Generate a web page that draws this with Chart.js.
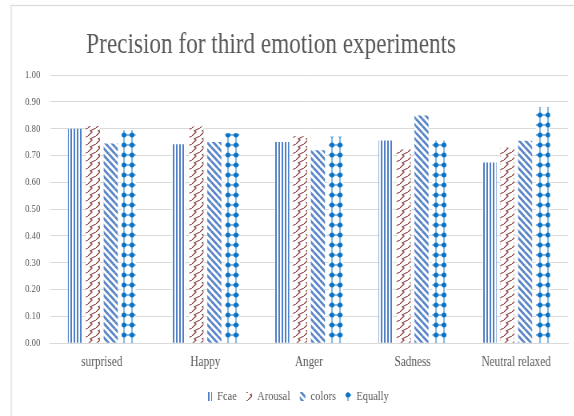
<!DOCTYPE html>
<html>
<head>
<meta charset="utf-8">
<script src="https://cdn.jsdelivr.net/npm/chart.js@4.4.1/dist/chart.umd.min.js"></script>
<style>
  html, body { margin: 0; padding: 0; background: #fff; overflow: hidden; }
  /* chart is laid out wide and squeezed horizontally, like the narrow serif look of the sheet */
  #wrap { position: absolute; left: 0; top: 0; width: 718px; height: 416px;
          transform: scaleX(0.8); transform-origin: 0 0; }
</style>
</head>
<body>
<div id="wrap"><canvas id="myChart"></canvas></div>
<script>
// DATA
var emotions = ['surprised', 'Happy', 'Anger', 'Sadness', 'Neutral relaxed'];
var fcae     = [0.800, 0.742, 0.750, 0.756, 0.674];
var arousal  = [0.810, 0.808, 0.772, 0.723, 0.730];
var colors   = [0.745, 0.750, 0.719, 0.849, 0.755];
var equally  = [0.795, 0.783, 0.770, 0.756, 0.880];
var yMin = 0, yMax = 1, yStep = 0.1;

var FONT = '"Liberation Serif", "Times New Roman", serif';
var GREY = '#595959';

// PATTERNS
function makeTile(w, h, draw) {
    var c = document.createElement('canvas');
    c.width = w; c.height = h;
    var t = c.getContext('2d');
    t.fillStyle = '#fff';
    t.fillRect(0, 0, w, h);
    draw(t, w, h);
    return document.createElement('canvas').getContext('2d').createPattern(c, 'repeat');
}

var fcaeFill = makeTile(4, 4, function (t, w, h) {
    t.fillStyle = '#4f7fc4';
    t.fillRect(0, 0, 2, h);
});

var arousalFill = makeTile(10, 8, function (t, w, h) {
    t.strokeStyle = '#8a3b3b';
    t.lineWidth = 1.1;
    for (var k = -1; k <= 1; k++) {
        var ox = k * w;
        t.beginPath();
        t.moveTo(ox, h);
        t.lineTo(ox + w * 0.5, h * 0.5);
        t.lineTo(ox + w * 0.3, h * 0.35);
        t.lineTo(ox + w, 0);
        t.stroke();
    }
});

var colorsFill = makeTile(8, 7, function (t, w, h) {
    t.strokeStyle = '#5a86c8';
    t.lineWidth = 2.6;
    [[0, 0], [-w, 0], [0, -h], [w, 0], [0, h]].forEach(function (o) {
        t.beginPath();
        t.moveTo(o[0], o[1]);
        t.lineTo(o[0] + w, o[1] + h);
        t.stroke();
    });
});

var equallyFill = makeTile(10, 10, function (t, w, h) {
    t.fillStyle = '#0a73c6';
    t.fillRect(4.5, 0, 1, h);
    t.fillRect(0, 4.5, w, 1);
    t.beginPath();
    t.ellipse(5, 5, 3.0, 2.5, 0, 0, Math.PI * 2);
    t.fill();
});

// FRAME, TITLE, LEGEND OFFSET
var LEGEND_SHIFT = 9;
var framePlugin = {
    id: 'frame',
    afterLayout: function (chart) {
        // legend sits a little right of the canvas centre
        chart.legend.left += LEGEND_SHIFT;
        chart.legend.right += LEGEND_SHIFT;
    },
    beforeDraw: function (chart) {
        var ctx = chart.ctx;
        ctx.save();
        ctx.strokeStyle = '#d9d9d9';
        ctx.lineWidth = 1.25;
        ctx.strokeRect(14, 5.5, 900, 600);
        ctx.restore();
    },
    afterDraw: function (chart) {
        var ctx = chart.ctx;
        ctx.save();
        ctx.font = '29px ' + FONT;
        ctx.fillStyle = GREY;
        ctx.textAlign = 'center';
        ctx.textBaseline = 'alphabetic';
        ctx.fillText('Precision for third emotion experiments', 339, 53);
        ctx.restore();
    }
};

// GRAPHIC
var ctx = document.getElementById('myChart').getContext('2d');
var chart = new Chart(ctx, {
    type: 'bar',
    data: {
        labels: emotions,
        datasets: [
            { label: 'Fcae',    data: fcae,    backgroundColor: fcaeFill,    borderWidth: 0 },
            { label: 'Arousal', data: arousal, backgroundColor: arousalFill, borderWidth: 0 },
            { label: 'colors',  data: colors,  backgroundColor: colorsFill,  borderWidth: 0 },
            { label: 'Equally', data: equally, backgroundColor: equallyFill, borderWidth: 0 }
        ]
    },
    options: {
        responsive: true,
        maintainAspectRatio: false,
        animation: false,
        devicePixelRatio: 1,
        categoryPercentage: 0.69,
        barPercentage: 0.79,
        layout: { padding: { top: 75, left: 16, right: 8, bottom: 3 } },
        plugins: {
            title: { display: false },
            tooltip: { enabled: false },
            legend: {
                position: 'bottom',
                labels: {
                    boxWidth: 7,
                    boxHeight: 9,
                    padding: 12,
                    color: GREY,
                    font: { family: FONT, size: 13 }
                }
            }
        },
        scales: {
            x: {
                grid: { display: false },
                border: { display: true, color: '#d9d9d9', width: 1 },
                ticks: { color: GREY, padding: 3, font: { family: FONT, size: 14 } },
                afterFit: function (scale) { scale.height += 4; }
            },
            y: {
                min: yMin,
                max: yMax,
                border: { display: false },
                grid: { color: '#d9d9d9', lineWidth: 1, drawTicks: false },
                ticks: {
                    stepSize: yStep,
                    padding: 12,
                    color: GREY,
                    font: { family: FONT, size: 11 },
                    callback: function (v) { return Number(v).toFixed(2); }
                },
                afterFit: function (scale) { scale.width = 46.5; }
            }
        }
    },
    plugins: [framePlugin]
});
</script>
</body>
</html>
